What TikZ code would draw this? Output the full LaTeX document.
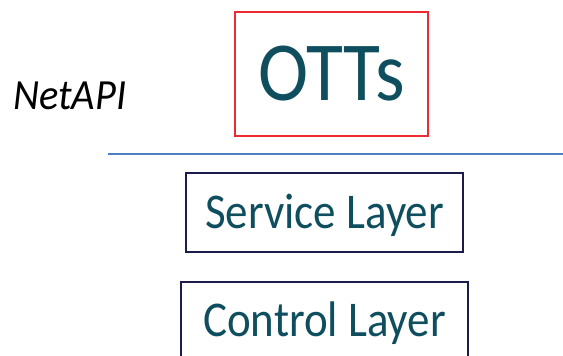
\documentclass[tikz,border=0pt]{standalone}
\usepackage{fontspec}
\setmainfont[FakeStretch=0.9]{Carlito}
\newfontfamily\netfont[FakeStretch=0.94]{Carlito}
\definecolor{txtc}{HTML}{0F4E5E}
\definecolor{redc}{HTML}{EC2A30}
\definecolor{navyc}{HTML}{1B1C4B}
\definecolor{bluec}{HTML}{4A80C2}
\tikzset{
  layerbox/.style={draw=navyc, line width=2pt, inner sep=0pt, text=txtc,
    minimum height=79pt, text depth=0pt, text height=31.6pt,
    font=\fontsize{50}{50}\selectfont},
}
\begin{document}
\begin{tikzpicture}[x=1pt,y=1pt]
\useasboundingbox (0,0) rectangle (563,-356);
\clip (0,0) rectangle (563,-356);
\node[draw=redc, line width=1.8pt, inner sep=0pt, text=txtc,
  minimum width=193pt, minimum height=124pt, text depth=0pt, text height=52.5pt,
  font=\fontsize{84}{84}\selectfont] (otts) at (331.5,-74) {OTTs};
\node[anchor=base west, inner sep=0pt, font=\netfont\itshape\fontsize{43}{43}\selectfont] (netapi) at (13,-109) {NetAPI};
\coordinate (l1) at (108,-154);
\coordinate (l2) at (563,-154);
\draw[bluec, line width=1.6pt] (l1) -- (l2);
\node[layerbox, minimum width=277pt] (service) at (324.5,-212.5) {Service Layer};
\node[layerbox, minimum width=287pt] (control) at (324.5,-321) {Control Layer};
\end{tikzpicture}
\end{document}
